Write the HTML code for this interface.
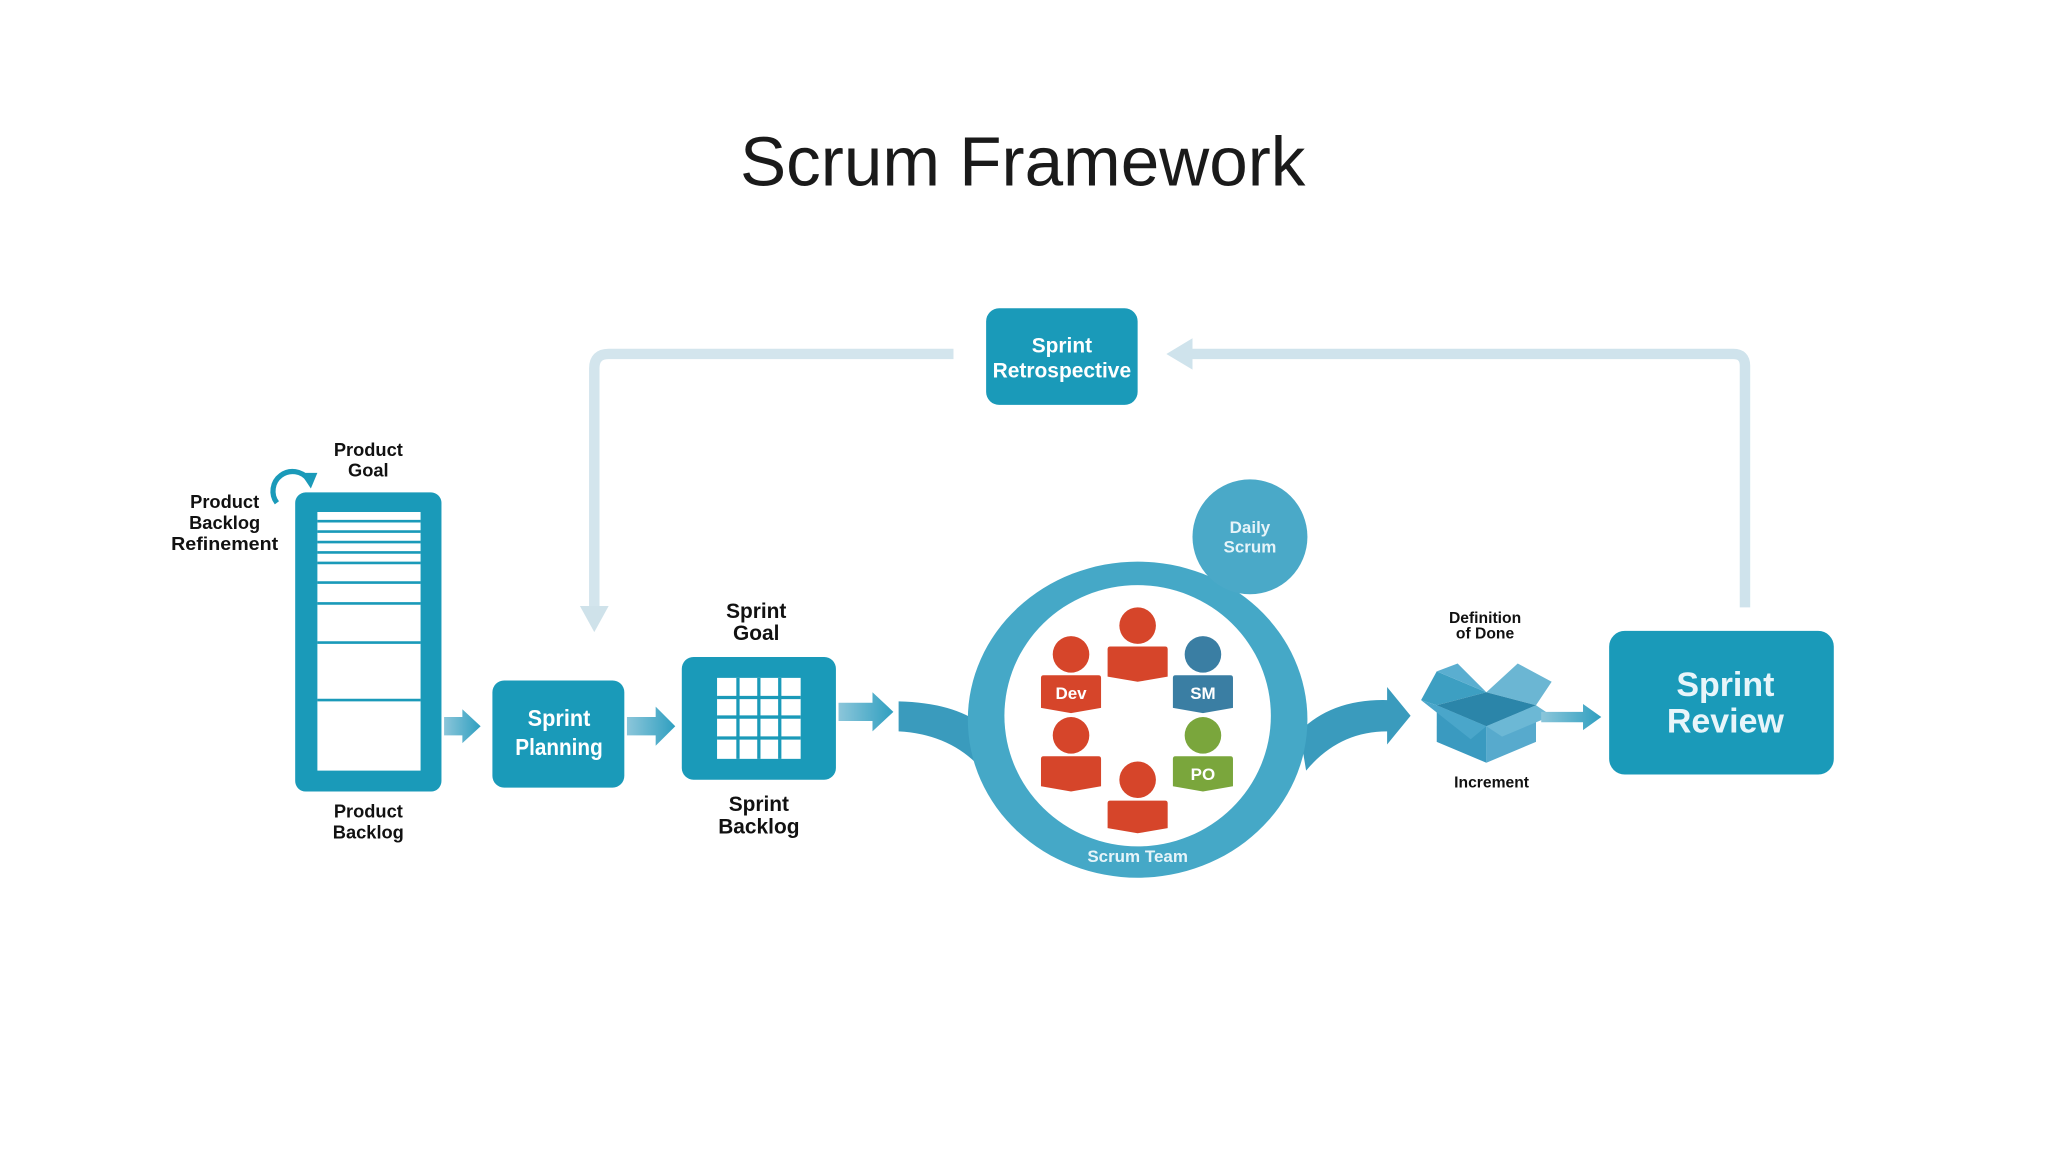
<!DOCTYPE html>
<html><head><meta charset="utf-8"><style>
html,body{margin:0;padding:0;background:#fff;width:2048px;height:1152px;overflow:hidden}
svg{display:block}
text{font-family:"Liberation Sans","DejaVu Sans",sans-serif}
</style></head><body>
<svg width="2048" height="1152" viewBox="0 0 1568 882" xmlns="http://www.w3.org/2000/svg">
<defs>
<linearGradient id="ag" x1="0" x2="1"><stop offset="0" stop-color="#8cc6da"/><stop offset="1" stop-color="#2f9fc0"/></linearGradient>
</defs>
<text x="783" y="142" font-size="53" text-anchor="middle" fill="#1a1a1a">Scrum Framework</text>

<!-- feedback arrows -->
<path d="M730 271 H466 Q455 271 455 282 V466" fill="none" stroke="#d3e5ed" stroke-width="8"/>
<polygon points="444,464 466,464 455,484" fill="#cfe2ea"/>
<path d="M1336 465 V280 Q1336 271 1327 271 H905" fill="none" stroke="#cfe3ec" stroke-width="8"/>
<polygon points="893,271 913,259 913,283" fill="#cfe3ec"/>

<!-- Retrospective -->
<rect x="755" y="236" width="116" height="74" rx="10" fill="#1a9ab9"/>
<text x="813" y="270" font-size="16" font-weight="bold" fill="#fff" text-anchor="middle">Sprint</text>
<text x="813" y="289" font-size="16" font-weight="bold" fill="#fff" text-anchor="middle" textLength="106" lengthAdjust="spacingAndGlyphs">Retrospective</text>

<!-- Product backlog -->
<text x="282" y="349" font-size="14" font-weight="bold" text-anchor="middle" fill="#111">Product</text>
<text x="282" y="365" font-size="14" font-weight="bold" text-anchor="middle" fill="#111">Goal</text>
<path d="M212 385 A14 14 0 1 1 236 367" fill="none" stroke="#1a9ab9" stroke-width="4"/>
<polygon points="230,362 243,362 238,374" fill="#1a9ab9"/>
<text x="172" y="389" font-size="14" font-weight="bold" text-anchor="middle" fill="#111">Product</text>
<text x="172" y="405" font-size="14" font-weight="bold" text-anchor="middle" fill="#111">Backlog</text>
<text x="172" y="421" font-size="14" font-weight="bold" text-anchor="middle" fill="#111" textLength="82" lengthAdjust="spacingAndGlyphs">Refinement</text>
<rect x="226" y="377" width="112" height="229" rx="8" fill="#1a9ab9"/>
<rect x="243" y="392" width="79" height="198" fill="#fff"/>
<g stroke="#1a9ab9" stroke-width="2">
<line x1="243" y1="399" x2="322" y2="399"/><line x1="243" y1="407" x2="322" y2="407"/>
<line x1="243" y1="415" x2="322" y2="415"/><line x1="243" y1="423" x2="322" y2="423"/>
<line x1="243" y1="431" x2="322" y2="431"/><line x1="243" y1="446" x2="322" y2="446"/>
<line x1="243" y1="462" x2="322" y2="462"/><line x1="243" y1="492" x2="322" y2="492"/>
<line x1="243" y1="536" x2="322" y2="536"/>
</g>
<text x="282" y="626" font-size="14" font-weight="bold" text-anchor="middle" fill="#111">Product</text>
<text x="282" y="642" font-size="14" font-weight="bold" text-anchor="middle" fill="#111">Backlog</text>

<!-- arrows -->
<path d="M340 549 H354 V543 L368 556 L354 569 V563 H340 Z" fill="url(#ag)"/>
<path d="M480 549 H502 V541 L517 556 L502 571 V563 H480 Z" fill="url(#ag)"/>
<path d="M642 538 H668 V530 L684 545 L668 560 V552 H642 Z" fill="url(#ag)"/>

<!-- Sprint Planning -->
<rect x="377" y="521" width="101" height="82" rx="9" fill="#1a9ab9"/>
<text x="428" y="556" font-size="18" font-weight="bold" fill="#fff" text-anchor="middle" textLength="48" lengthAdjust="spacingAndGlyphs">Sprint</text>
<text x="428" y="578" font-size="18" font-weight="bold" fill="#fff" text-anchor="middle" textLength="67" lengthAdjust="spacingAndGlyphs">Planning</text>

<!-- Sprint Backlog -->
<text x="579" y="473" font-size="16" font-weight="bold" text-anchor="middle" fill="#111">Sprint</text>
<text x="579" y="490" font-size="16" font-weight="bold" text-anchor="middle" fill="#111">Goal</text>
<rect x="522" y="503" width="118" height="94" rx="9" fill="#1a9ab9"/>
<rect x="549" y="519" width="64" height="62" fill="#fff"/>
<g stroke="#1a9ab9" stroke-width="2.5">
<line x1="565" y1="519" x2="565" y2="581"/><line x1="581" y1="519" x2="581" y2="581"/><line x1="597" y1="519" x2="597" y2="581"/>
<line x1="549" y1="534" x2="613" y2="534"/><line x1="549" y1="549" x2="613" y2="549"/><line x1="549" y1="565" x2="613" y2="565"/>
</g>
<text x="581" y="621" font-size="16" font-weight="bold" text-anchor="middle" fill="#111">Sprint</text>
<text x="581" y="638" font-size="16" font-weight="bold" text-anchor="middle" fill="#111">Backlog</text>

<!-- band into circle -->
<path d="M688 537 Q730 538 752 555 L748 585 Q725 562 688 560 Z" fill="#3a9bbd"/>
<!-- band out -->
<path d="M995 560 Q1020 535 1062 536 V526 L1080 548 L1062 570 V560 Q1025 560 1000 590 Z" fill="#3a9bbd"/>

<!-- Scrum team circle -->
<ellipse cx="871" cy="551" rx="130" ry="121" fill="#45a8c7"/>
<ellipse cx="871" cy="548" rx="102" ry="100" fill="#fff"/>
<circle cx="957" cy="411" r="44" fill="#4aa9c8"/>
<text x="957" y="408" font-size="13" font-weight="bold" fill="#e6f4f9" text-anchor="middle">Daily</text>
<text x="957" y="423" font-size="13" font-weight="bold" fill="#e6f4f9" text-anchor="middle">Scrum</text>

<g>
<circle cx="820" cy="501" r="14" fill="#d6452a"/>
<path d="M799 517 H841 Q843 517 843 519 V542 L820 546 L797 542 V519 Q797 517 799 517 Z" fill="#d6452a"/>
<text x="820" y="535" font-size="13" font-weight="bold" fill="#fff" text-anchor="middle">Dev</text>
<circle cx="871" cy="479" r="14" fill="#d6452a"/>
<path d="M850 495 H892 Q894 495 894 497 V518 L871 522 L848 518 V497 Q848 495 850 495 Z" fill="#d6452a"/>
<circle cx="921" cy="501" r="14" fill="#3a7ea3"/>
<path d="M900 517 H942 Q944 517 944 519 V542 L921 546 L898 542 V519 Q898 517 900 517 Z" fill="#3a7ea3"/>
<text x="921" y="535" font-size="13" font-weight="bold" fill="#fff" text-anchor="middle">SM</text>
<circle cx="820" cy="563" r="14" fill="#d6452a"/>
<path d="M799 579 H841 Q843 579 843 581 V602 L820 606 L797 602 V581 Q797 579 799 579 Z" fill="#d6452a"/>
<circle cx="921" cy="563" r="14" fill="#7aa63c"/>
<path d="M900 579 H942 Q944 579 944 581 V602 L921 606 L898 602 V581 Q898 579 900 579 Z" fill="#7aa63c"/>
<text x="921" y="597" font-size="13" font-weight="bold" fill="#fff" text-anchor="middle">PO</text>
<circle cx="871" cy="597" r="14" fill="#d6452a"/>
<path d="M850 613 H892 Q894 613 894 615 V634 L871 638 L848 634 V615 Q848 613 850 613 Z" fill="#d6452a"/>
</g>
<text x="871" y="660" font-size="13" font-weight="bold" fill="#e6f4f9" text-anchor="middle">Scrum Team</text>

<!-- Increment box -->
<text x="1137" y="477" font-size="12" font-weight="bold" text-anchor="middle" fill="#111">Definition</text>
<text x="1137" y="489" font-size="12" font-weight="bold" text-anchor="middle" fill="#111">of Done</text>
<polygon points="1138,530 1100,514 1088,536 1100,540" fill="#3d9fc2"/>
<polygon points="1138,530 1162,508 1188,522 1176,540" fill="#6bb6d3"/>
<polygon points="1138,530 1116,508 1100,514" fill="#5aaed0"/>
<polygon points="1100,540 1138,556 1138,584 1100,568" fill="#3a9ac0"/>
<polygon points="1176,540 1138,556 1138,584 1176,568" fill="#57aacd"/>
<polygon points="1100,540 1138,530 1176,540 1138,556" fill="#2b85a9"/>
<polygon points="1088,536 1100,540 1138,556 1126,566" fill="#4aa6ca"/>
<polygon points="1188,548 1176,540 1138,556 1150,564" fill="#6cb8d5"/>
<path d="M1180 545 H1212 V539 L1226 549 L1212 559 V553 H1180 Z" fill="url(#ag)"/>
<text x="1142" y="603" font-size="12" font-weight="bold" text-anchor="middle" fill="#111">Increment</text>

<!-- Sprint Review -->
<rect x="1232" y="483" width="172" height="110" rx="12" fill="#1a9ab9"/>
<text x="1321" y="533" font-size="26" font-weight="bold" fill="#e8f5fa" text-anchor="middle">Sprint</text>
<text x="1321" y="561" font-size="26" font-weight="bold" fill="#e8f5fa" text-anchor="middle">Review</text>
</svg>
</body></html>
